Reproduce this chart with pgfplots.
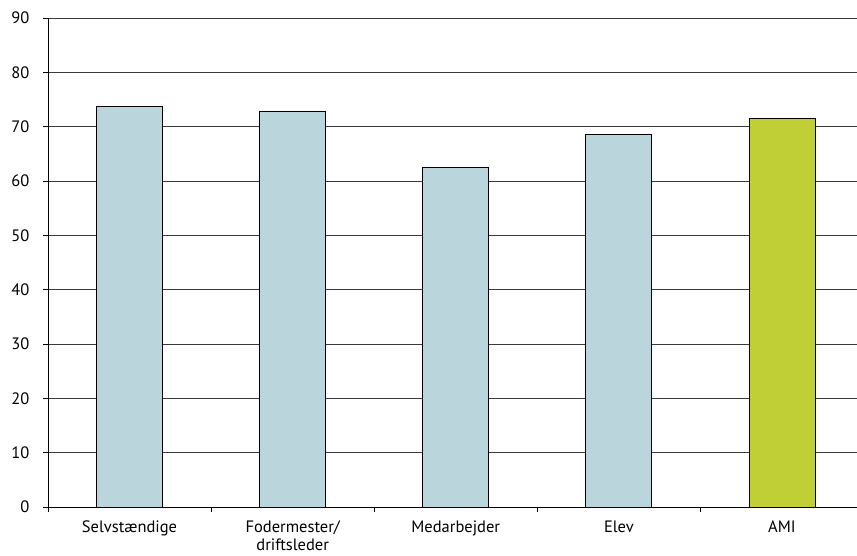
\documentclass[border=0pt]{standalone}
\usepackage{fontspec}
\setmainfont{PT Sans}
\usepackage{pgfplots}
\pgfplotsset{compat=1.18}
\definecolor{barblue}{HTML}{BBD5DC}
\definecolor{bargreen}{HTML}{BFCF35}
\definecolor{gridc}{HTML}{3A3A3A}
\begin{document}
\begin{tikzpicture}
\path[use as bounding box] (-48bp,-49bp) rectangle (809bp,507bp);
\begin{axis}[at={(0,0)}, anchor=south west, scale only axis,
  width=809bp, height=489bp,
  xmin=-0.5, xmax=4.46, ymin=0, ymax=90, ytick={0,10,...,90},
  axis x line=bottom, axis y line=left,
  axis line style={-, line width=0.8pt, black},
  ymajorgrids, grid style={gridc, line width=0.8pt},
  tick align=outside, major tick length=5bp,
  tick style={black, line width=0.8pt},
  xtick={0,...,4},
  xticklabels={Selvstændige, {Fodermester/\\driftsleder}, Medarbejder, Elev, AMI},
  major x tick style={draw=none},
  extra x ticks={-0.5,0.5,1.5,2.5,3.5}, extra x tick labels={},
  extra x tick style={major x tick style={draw=black}, grid=none},
  /pgf/number format/assume math mode=true,
  ticklabel style={font=\fontsize{16.5bp}{18.5bp}\selectfont},
  xticklabel style={align=center, yshift=-5bp},
  yticklabel style={xshift=-10bp},
  clip=false,
]
\addplot[ybar, bar width=66bp, bar shift=0pt, fill=barblue, draw=black, line width=0.8pt]
  coordinates {(0,73.7) (1,72.9) (2,62.5) (3,68.5)};
\addplot[ybar, bar width=66bp, bar shift=0pt, fill=bargreen, draw=black, line width=0.8pt]
  coordinates {(4,71.5)};
\end{axis}
\end{tikzpicture}
\end{document}
